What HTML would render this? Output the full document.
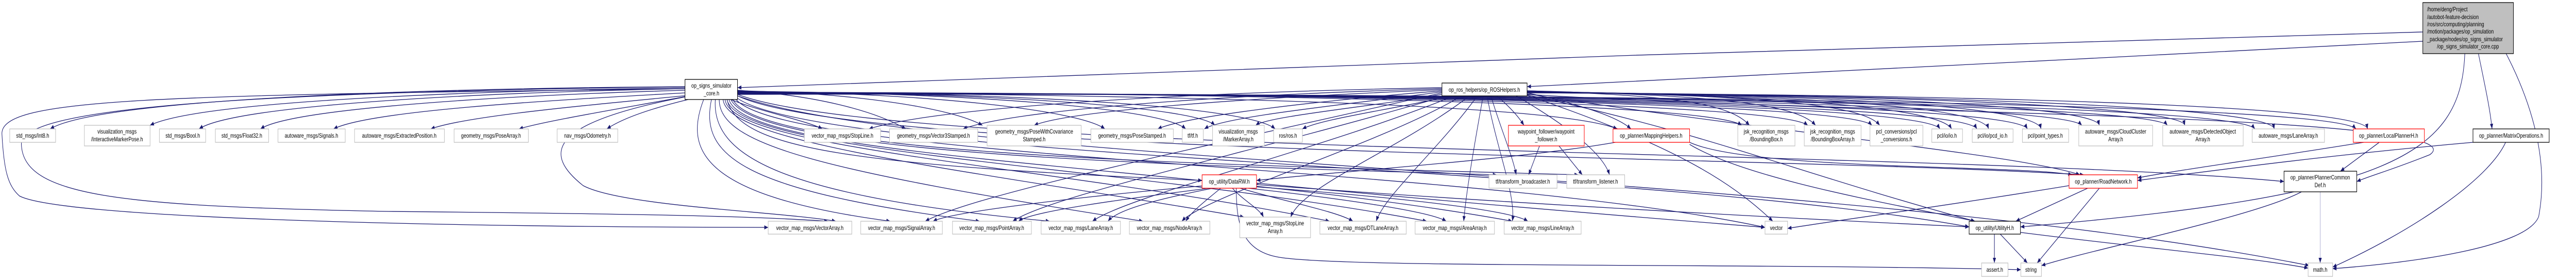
<!DOCTYPE html>
<html><head><meta charset="utf-8"><style>
html,body{margin:0;padding:0;background:#fff;overflow:hidden;width:100%;height:100%;}
svg{display:block;width:100vw;height:100vh;}
text{font-family:"Liberation Sans",Arial,sans-serif;font-size:12px;fill:#000;}
.e{fill:none;stroke:#191970;stroke-width:1.3;marker-end:url(#a);}
.g{fill:#fff;stroke:#bfbfbf;stroke-width:1.3;}
.r{fill:#fff;stroke:#ff0000;stroke-width:1.3;}
.k{fill:#fff;stroke:#000;stroke-width:1.3;}
</style></head><body>
<svg viewBox="0 0 6626 543" preserveAspectRatio="none" xmlns="http://www.w3.org/2000/svg">
<defs><marker id="a" markerWidth="10" markerHeight="8" refX="10" refY="4" orient="auto" markerUnits="userSpaceOnUse"><path d="M0,0 L10,4 L0,8 z" fill="#191970"/></marker></defs>
<g>
<path class="e" d="M6232,62 C5000,90 3000,130 1897,170"/>
<path class="e" d="M6232,80 C5500,110 4500,145 3928,168"/>
<path class="e" d="M6340,104 C6330,300 6150,380 5197,440"/>
<path class="e" d="M6375,104 C6390,160 6405,210 6410,250"/>
<path class="e" d="M6440,95 C6500,180 6560,300 6530,420 C6500,480 6200,510 6000,521"/>
<path class="e" d="M1762,168 C1000,172 250,195 129,250"/>
<path class="e" d="M1762,170 C1100,178 500,200 386,243"/>
<path class="e" d="M1762,172 C1200,180 600,205 512,250"/>
<path class="e" d="M1762,175 C1300,185 750,210 670,250"/>
<path class="e" d="M1765,180 C1400,195 950,215 858,250"/>
<path class="e" d="M1770,185 C1500,205 1200,225 1108,250"/>
<path class="e" d="M1765,187 C1600,210 1400,235 1335,250"/>
<path class="e" d="M1770,193 C1650,215 1590,235 1561,250"/>
<path class="e" d="M1762,172 C400,185 0,190 5,260 C10,330 20,360 50,380 C150,420 1000,440 1976,441"/>
<path class="e" d="M1762,168 C600,180 50,210 55,280 C60,380 300,400 1000,410 C1700,415 1950,420 2130,429"/>
<path class="e" d="M1762,188 C1400,240 1400,300 1500,360 C1600,400 2000,410 2150,429"/>
<path class="e" d="M1810,193 C1760,290 1800,380 2290,429"/>
<path class="e" d="M1830,193 C1800,300 1900,370 2520,429"/>
<path class="e" d="M1840,193 C1830,300 2000,380 2700,429"/>
<path class="e" d="M1850,193 C1850,280 2100,330 2940,429"/>
<path class="e" d="M1860,193 C1870,280 2500,330 3200,421"/>
<path class="e" d="M1865,193 C1880,290 2700,320 3420,429"/>
<path class="e" d="M1870,193 C1900,300 2900,320 3670,429"/>
<path class="e" d="M1875,193 C1920,310 3100,320 3890,429"/>
<path class="e" d="M1870,193 C1900,290 2200,320 3092,350"/>
<path class="e" d="M1880,193 C1950,300 3000,320 3850,339"/>
<path class="e" d="M1885,193 C1960,305 3200,320 4060,339"/>
<path class="e" d="M1890,190 C2000,310 3800,320 4540,441"/>
<path class="e" d="M1892,188 C2100,310 4200,320 5065,440"/>
<path class="e" d="M1895,185 C2200,300 4500,300 5360,339"/>
<path class="e" d="M1897,183 C2300,300 5000,290 5875,352"/>
<path class="e" d="M1897,186 C2400,320 4700,330 5940,515"/>
<path class="e" d="M1880,193 C1950,215 2080,235 2115,250"/>
<path class="e" d="M1897,175 C2100,185 2250,215 2330,250"/>
<path class="e" d="M1897,176 C2200,180 2450,210 2527,243"/>
<path class="e" d="M1897,177 C2400,180 2780,215 2842,250"/>
<path class="e" d="M1897,177 C2500,180 2990,210 3050,250"/>
<path class="e" d="M1897,178 C2600,180 3080,210 3125,243"/>
<path class="e" d="M1897,178 C2700,180 3220,210 3280,250"/>
<path class="e" d="M1897,178 C3000,185 4000,200 4160,250"/>
<path class="e" d="M1897,179 C3200,180 4400,200 4480,243"/>
<path class="e" d="M1897,179 C3300,180 4580,200 4650,243"/>
<path class="e" d="M1897,180 C3400,180 4760,200 4815,243"/>
<path class="e" d="M1897,180 C3500,180 4950,200 4990,250"/>
<path class="e" d="M1897,181 C3600,180 5050,200 5085,250"/>
<path class="e" d="M1897,181 C3700,180 5180,200 5215,250"/>
<path class="e" d="M1897,182 C3800,180 5300,200 5355,243"/>
<path class="e" d="M1897,182 C3900,180 5530,200 5575,243"/>
<path class="e" d="M1897,183 C4000,180 5750,200 5800,250"/>
<path class="e" d="M1897,183 C4100,180 6000,200 6060,250"/>
<path class="e" d="M3709,170 C3000,180 2400,210 2235,250"/>
<path class="e" d="M3709,172 C3100,185 2600,215 2477,250"/>
<path class="e" d="M3709,174 C3200,190 2750,215 2660,243"/>
<path class="e" d="M3709,176 C3400,195 3050,225 2978,250"/>
<path class="e" d="M3709,178 C3500,200 3150,225 3098,250"/>
<path class="e" d="M3715,182 C3550,205 3260,225 3230,243"/>
<path class="e" d="M3730,186 C3600,210 3400,230 3350,250"/>
<path class="e" d="M3850,186 C3880,205 3905,225 3920,243"/>
<path class="e" d="M3928,180 C4050,200 4160,225 4195,250"/>
<path class="e" d="M3709,180 C3000,300 2500,380 2380,429"/>
<path class="e" d="M3720,186 C3200,300 2700,380 2605,429"/>
<path class="e" d="M3740,186 C3400,290 2900,380 2810,429"/>
<path class="e" d="M3760,186 C3550,280 3100,380 3040,429"/>
<path class="e" d="M3780,186 C3600,290 3350,360 3320,421"/>
<path class="e" d="M3800,186 C3700,290 3560,380 3540,429"/>
<path class="e" d="M3815,186 C3790,290 3770,380 3765,429"/>
<path class="e" d="M3825,186 C3850,290 3900,380 3890,429"/>
<path class="e" d="M3835,186 C3860,250 3890,300 3900,339"/>
<path class="e" d="M3900,186 C4000,230 4120,290 4140,339"/>
<path class="e" d="M3928,176 C4300,185 4450,200 4500,243"/>
<path class="e" d="M3928,176 C4400,185 4620,200 4670,243"/>
<path class="e" d="M3928,177 C4500,185 4790,200 4835,243"/>
<path class="e" d="M3928,177 C4600,185 4990,210 5020,250"/>
<path class="e" d="M3928,178 C4700,185 5100,210 5115,250"/>
<path class="e" d="M3928,178 C4800,185 5240,210 5250,250"/>
<path class="e" d="M3928,179 C4900,185 5390,210 5400,243"/>
<path class="e" d="M3928,179 C5000,185 5610,210 5620,243"/>
<path class="e" d="M3928,180 C5100,185 5840,210 5850,250"/>
<path class="e" d="M3928,180 C5300,185 6080,210 6090,250"/>
<path class="e" d="M3928,182 C4500,250 5200,300 5350,339"/>
<path class="e" d="M3928,183 C4700,220 6400,220 6250,300 C6150,330 6100,340 6062,352"/>
<path class="e" d="M3928,184 C4400,260 4600,330 5080,429"/>
<path class="e" d="M3928,185 C4300,280 4450,350 4560,429"/>
<path class="e" d="M3960,283 L3932,339"/>
<path class="e" d="M4010,283 L4070,339"/>
<path class="e" d="M4155,276 C3900,310 3400,335 3232,350"/>
<path class="e" d="M4346,276 C4500,330 5200,320 5330,339"/>
<path class="e" d="M4346,280 C4500,350 4900,400 5080,429"/>
<path class="e" d="M3100,360 C2800,380 2450,410 2400,429"/>
<path class="e" d="M3110,365 C2900,385 2650,410 2620,429"/>
<path class="e" d="M3120,365 C2950,390 2870,410 2850,429"/>
<path class="e" d="M3140,365 C3100,390 3065,410 3050,429"/>
<path class="e" d="M3170,365 C3200,390 3240,405 3250,421"/>
<path class="e" d="M3190,365 C3300,390 3440,410 3480,429"/>
<path class="e" d="M3210,365 C3450,385 3680,410 3720,429"/>
<path class="e" d="M3225,362 C3550,380 3880,405 3930,429"/>
<path class="e" d="M3180,365 C3180,430 3190,490 3300,500 C3500,520 4500,510 5198,523"/>
<path class="e" d="M3232,358 C3800,390 4500,420 5065,440"/>
<path class="e" d="M3232,355 C3700,390 4200,420 4540,441"/>
<path class="e" d="M6080,276 C5800,310 5600,330 5498,345"/>
<path class="e" d="M6120,276 L6020,332"/>
<path class="e" d="M6361,276 C6000,300 5700,330 5498,350"/>
<path class="e" d="M6445,276 C6400,350 6200,450 6000,518"/>
<path class="e" d="M5322,360 C5000,400 4700,430 4598,443"/>
<path class="e" d="M5370,365 L5185,429"/>
<path class="e" d="M5400,365 L5240,510"/>
<path class="e" d="M5920,372 C5800,420 5400,480 5251,515"/>
<path class="e" d="M5968,372 L5968,510" style="stroke:#9a9ac8;stroke-width:1"/>
<path class="e" d="M5130,454 L5130,510"/>
<path class="e" d="M5145,454 L5215,510"/>
<path class="e" d="M5190,450 C5500,480 5800,500 5937,520"/>
</g>
<g text-anchor="middle">
<rect x="6232" y="5" width="233" height="99" fill="#bfbfbf" stroke="#000" stroke-width="1.3"/>
<text x="6243" y="22" text-anchor="start">/home/deng/Project</text>
<text x="6243" y="37" text-anchor="start">/autobot-feature-decision</text>
<text x="6243" y="51" text-anchor="start">/ros/src/computing/planning</text>
<text x="6243" y="65" text-anchor="start">/motion/packages/op_simulation</text>
<text x="6243" y="80" text-anchor="start">_package/nodes/op_signs_simulator</text>
<text x="6348" y="94">/op_signs_simulator_core.cpp</text>
<rect class="k" x="1762" y="154" width="135" height="39"/><text x="1830" y="170">op_signs_simulator</text><text x="1830" y="185">_core.h</text>
<rect class="k" x="3709" y="161" width="219" height="25"/><text x="3818" y="178">op_ros_helpers/op_ROSHelpers.h</text>
<rect class="g" x="25" y="250" width="118" height="26"/><text x="84" y="267">std_msgs/Int8.h</text>
<rect class="g" x="217" y="243" width="169" height="40"/><text x="301" y="259">visualization_msgs</text><text x="301" y="274">/InteractiveMarkerPose.h</text>
<rect class="g" x="410" y="250" width="119" height="26"/><text x="470" y="267">std_msgs/Bool.h</text>
<rect class="g" x="554" y="250" width="137" height="26"/><text x="622" y="267">std_msgs/Float32.h</text>
<rect class="g" x="715" y="250" width="173" height="26"/><text x="801" y="267">autoware_msgs/Signals.h</text>
<rect class="g" x="912" y="250" width="231" height="26"/><text x="1027" y="267">autoware_msgs/ExtractedPosition.h</text>
<rect class="g" x="1168" y="250" width="191" height="26"/><text x="1263" y="267">geometry_msgs/PoseArray.h</text>
<rect class="g" x="1433" y="250" width="156" height="26"/><text x="1511" y="267">nav_msgs/Odometry.h</text>
<rect class="g" x="2069" y="250" width="196" height="26"/><text x="2167" y="267">vector_map_msgs/StopLine.h</text>
<rect class="g" x="2288" y="250" width="227" height="26"/><text x="2401" y="267">geometry_msgs/Vector3Stamped.h</text>
<rect class="g" x="2539" y="243" width="242" height="40"/><text x="2660" y="259">geometry_msgs/PoseWithCovariance</text><text x="2660" y="274">Stamped.h</text>
<rect class="g" x="2806" y="250" width="212" height="26"/><text x="2912" y="267">geometry_msgs/PoseStamped.h</text>
<rect class="g" x="3041" y="250" width="54" height="26"/><text x="3068" y="267">tf/tf.h</text>
<rect class="g" x="3119" y="243" width="133" height="40"/><text x="3185" y="259">visualization_msgs</text><text x="3185" y="274">/MarkerArray.h</text>
<rect class="g" x="3276" y="250" width="74" height="26"/><text x="3313" y="267">ros/ros.h</text>
<rect class="r" x="3880" y="243" width="195" height="40"/><text x="3977" y="259">waypoint_follower/waypoint</text><text x="3977" y="274">_follower.h</text>
<rect class="r" x="4149" y="250" width="197" height="26"/><text x="4247" y="267">op_planner/MappingHelpers.h</text>
<rect class="g" x="4470" y="243" width="147" height="40"/><text x="4543" y="259">jsk_recognition_msgs</text><text x="4543" y="274">/BoundingBox.h</text>
<rect class="g" x="4641" y="243" width="146" height="40"/><text x="4714" y="259">jsk_recognition_msgs</text><text x="4714" y="274">/BoundingBoxArray.h</text>
<rect class="g" x="4810" y="243" width="136" height="40"/><text x="4878" y="259">pcl_conversions/pcl</text><text x="4878" y="274">_conversions.h</text>
<rect class="g" x="4969" y="250" width="79" height="26"/><text x="5008" y="267">pcl/io/io.h</text>
<rect class="g" x="5073" y="250" width="105" height="26"/><text x="5125" y="267">pcl/io/pcd_io.h</text>
<rect class="g" x="5202" y="250" width="119" height="26"/><text x="5261" y="267">pcl/point_types.h</text>
<rect class="g" x="5347" y="243" width="190" height="40"/><text x="5442" y="259">autoware_msgs/CloudCluster</text><text x="5442" y="274">Array.h</text>
<rect class="g" x="5563" y="243" width="207" height="40"/><text x="5666" y="259">autoware_msgs/DetectedObject</text><text x="5666" y="274">Array.h</text>
<rect class="g" x="5793" y="250" width="186" height="26"/><text x="5886" y="267">autoware_msgs/LaneArray.h</text>
<rect class="r" x="6053" y="250" width="183" height="26"/><text x="6144" y="267">op_planner/LocalPlannerH.h</text>
<rect class="k" x="6361" y="250" width="196" height="26"/><text x="6459" y="267">op_planner/MatrixOperations.h</text>
<rect class="r" x="3092" y="339" width="140" height="26"/><text x="3162" y="356">op_utility/DataRW.h</text>
<rect class="g" x="3830" y="339" width="175" height="26"/><text x="3917" y="356">tf/transform_broadcaster.h</text>
<rect class="g" x="4030" y="339" width="149" height="26"/><text x="4104" y="356">tf/transform_listener.h</text>
<rect class="r" x="5322" y="339" width="176" height="26"/><text x="5410" y="356">op_planner/RoadNetwork.h</text>
<rect class="k" x="5875" y="332" width="187" height="40"/><text x="5968" y="348">op_planner/PlannerCommon</text><text x="5968" y="363">Def.h</text>
<rect class="g" x="1976" y="429" width="215" height="25"/><text x="2083" y="446">vector_map_msgs/VectorArray.h</text>
<rect class="g" x="2214" y="429" width="210" height="25"/><text x="2319" y="446">vector_map_msgs/SignalArray.h</text>
<rect class="g" x="2450" y="429" width="203" height="25"/><text x="2551" y="446">vector_map_msgs/PointArray.h</text>
<rect class="g" x="2678" y="429" width="204" height="25"/><text x="2780" y="446">vector_map_msgs/LaneArray.h</text>
<rect class="g" x="2905" y="429" width="207" height="25"/><text x="3008" y="446">vector_map_msgs/NodeArray.h</text>
<rect class="g" x="3189" y="421" width="182" height="40"/><text x="3280" y="437">vector_map_msgs/StopLine</text><text x="3280" y="452">Array.h</text>
<rect class="g" x="3395" y="429" width="222" height="25"/><text x="3506" y="446">vector_map_msgs/DTLaneArray.h</text>
<rect class="g" x="3640" y="429" width="204" height="25"/><text x="3742" y="446">vector_map_msgs/AreaArray.h</text>
<rect class="g" x="3869" y="429" width="198" height="25"/><text x="3968" y="446">vector_map_msgs/LineArray.h</text>
<rect class="g" x="4540" y="429" width="58" height="25"/><text x="4569" y="446">vector</text>
<rect class="k" x="5065" y="429" width="132" height="25"/><text x="5131" y="446">op_utility/UtilityH.h</text>
<rect class="g" x="5097" y="510" width="68" height="26"/><text x="5131" y="527">assert.h</text>
<rect class="g" x="5198" y="510" width="53" height="26"/><text x="5224" y="527">string</text>
<rect class="g" x="5937" y="510" width="63" height="26"/><text x="5968" y="527">math.h</text>
</g>
</svg>
</body></html>
